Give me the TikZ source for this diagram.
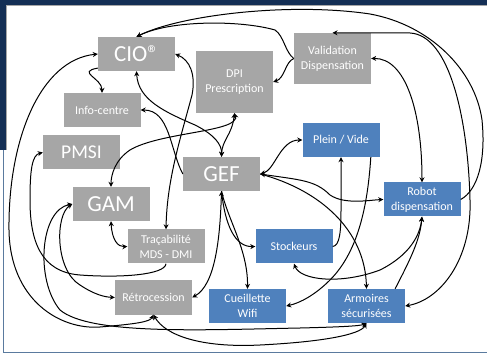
\documentclass[tikz,border=0pt]{standalone}
\usepackage{fontspec}
\setmainfont{Carlito}
\usetikzlibrary{arrows.meta}
\definecolor{navy}{HTML}{142F55}
\definecolor{edgeblue}{HTML}{5A7A9E}
\definecolor{boxgray}{HTML}{A6A6A6}
\definecolor{boxblue}{HTML}{4F81BD}
\begin{document}
\begin{tikzpicture}[x=1pt,y=-1pt,
  box/.style={minimum width=77pt,minimum height=34pt,inner sep=1pt,align=center,text=white},
  gbox/.style={box,fill=boxgray},
  bbox/.style={box,fill=boxblue},
  big/.style={font=\fontsize{23}{25}\selectfont},
  small/.style={font=\fontsize{12}{15}\selectfont},
  arr/.style={draw=black,line width=1pt,-{Stealth[length=5pt,width=5pt]}},
  biarr/.style={draw=black,line width=1pt,{Stealth[length=5pt,width=5pt]}-{Stealth[length=5pt,width=5pt]}}
]
\useasboundingbox (0,0) rectangle (487,355);
\fill[white] (0,0) rectangle (487,355);
% frame
\fill[navy] (0,0) rectangle (487,5.5);
\fill[navy] (0,0) rectangle (5.5,150);
\draw[edgeblue,line width=1pt] (3.5,150) -- (3.5,352.5) -- (487,352.5);
\draw[gray!70,line width=0.6pt] (5.8,150) -- (5.8,5.8) -- (487,5.8);

% nodes
\node[gbox,big] (cio) at (136.5,54) {CIO®};
\node[gbox,small] (info) at (102,110) {Info-centre};
\node[gbox,font=\fontsize{19.5}{22}\selectfont] (pmsi) at (81.5,152.5) {PMSI};
\node[gbox,big] (gam) at (111,204) {GAM};
\node[gbox,small] (trac) at (166,246.5) {Traçabilité\\MDS - DMI};
\node[gbox,small] (retro) at (153.5,297.5) {Rétrocession};
\node[gbox,small,minimum height=62pt] (dpi) at (234.5,82) {DPI\\Prescription};
\node[gbox,small,minimum height=51pt] (valid) at (332.5,58.5) {Validation\\Dispensation};
\node[gbox,big] (gef) at (221.5,174) {GEF};
\node[bbox,small] (plein) at (341,140) {Plein / Vide};
\node[bbox,small] (robot) at (422,199.5) {Robot\\dispensation};
\node[bbox,small] (stock) at (294,246.5) {Stockeurs};
\node[bbox,small] (cueil) at (247.5,306) {Cueillette\\Wifi};
\node[bbox,small] (arm) at (366.5,306) {Armoires\\sécurisées};

% top outer arc: Robot -> CIO
\draw[arr] (robot.east) .. controls (478,190) and (486,160) .. (482,120)
  .. controls (475,70) and (430,25) .. (370,14)
  .. controls (290,2) and (180,15) .. (cio.north);
% Validation -> CIO
\draw[arr] (valid.west) .. controls (285,52) and (284,36) .. (275,30)
  .. controls (240,20) and (170,20) .. (cio.north);
% Validation -> DPI
\draw[arr] (valid.west) .. controls (285,62) and (285,78) .. (dpi.east);
% Armoires <-> Validation (right arc)
\draw[biarr] (arm.east) .. controls (440,300) and (472,260) .. (470,200)
  .. controls (468,120) and (450,35) .. (410,33) -- (valid.north);
% Validation <-> Robot
\draw[biarr] (valid.east) .. controls (405,58) and (422,110) .. (robot.north);
% CIO <-> Retrocession (outer left arc)
\draw[biarr] (cio.west) .. controls (40,60) and (8,140) .. (9,230)
  .. controls (10,300) and (60,330) .. (100,327)
  .. controls (135,324) and (150,322) .. (retro.south);
% CIO -> Info-centre
\draw[arr] (cio.200) .. controls (76,72) and (102,78) .. (info.north);
% CIO <-> Tracabilite
\draw[biarr] (cio.east) .. controls (190,60) and (196,75) .. (192,95)
  .. controls (180,140) and (167,180) .. (trac.north);
% CIO <-> GEF
\draw[biarr] (cio.south) .. controls (138,100) and (165,112) .. (195,125)
  .. controls (215,135) and (222,145) .. (gef.north);
% GEF -> Info-centre
\draw[arr] (gef.west) .. controls (170,150) and (170,110) .. (info.east);
% DPI <-> GAM
\draw[biarr] (dpi.south) .. controls (240,132) and (160,132) .. (130,150)
  .. controls (115,160) and (111,175) .. (gam.north);
% DPI <-> GEF
\draw[biarr] (dpi.south) .. controls (232,135) and (222,140) .. (gef.north);
% GAM <-> Tracabilite
\draw[biarr] (gam.south) .. controls (112,240) and (118,247) .. (trac.west);
% Tracabilite -> PMSI
\draw[arr] (trac.south) .. controls (165,275) and (120,278) .. (80,275)
  .. controls (40,272) and (30,240) .. (30,200)
  .. controls (30,170) and (32,155) .. (pmsi.west);
% GEF <-> Retrocession
\draw[biarr] (gef.south) .. controls (220,240) and (215,285) .. (retro.east);
% GEF -> Stockeurs
\draw[arr] (gef.south) .. controls (225,225) and (235,247) .. (stock.west);
% GEF -> Cueillette
\draw[arr] (gef.south) .. controls (228,220) and (248,250) .. (cueil.north);
% GEF <-> Plein/Vide
\draw[biarr] (gef.east) .. controls (275,170) and (280,140) .. (plein.west);
% GEF <-> Robot
\draw[biarr] (gef.east) .. controls (300,180) and (315,180) .. (330,195)
  .. controls (345,205) and (370,200) .. (robot.west);
% GEF -> Armoires
\draw[arr] (gef.east) .. controls (320,190) and (365,230) .. (arm.north);
% Stockeurs -> Plein/Vide
\draw[arr] (stock.east) .. controls (340,246) and (341,230) .. (341,210) -- (plein.south);
% Plein/Vide -> Cueillette
\draw[arr] (plein.330) .. controls (368,200) and (360,250) .. (330,280)
  .. controls (315,295) and (300,303) .. (cueil.east);
% Stockeurs <-> Robot
\draw[biarr] (stock.south) .. controls (300,280) and (340,285) .. (380,270)
  .. controls (410,255) and (420,235) .. (robot.south);
% Armoires -> Robot
\draw[arr] (arm.31) .. controls (410,260) and (420,240) .. (robot.south);
% Retrocession <-> Armoires (bottom)
\draw[biarr] (retro.south) .. controls (165,335) and (200,348) .. (260,345)
  .. controls (320,342) and (360,335) .. (arm.south);
% GAM <-> Armoires (bottom left)
\draw[biarr] (gam.west) .. controls (40,210) and (35,280) .. (60,310)
  .. controls (90,335) and (200,330) .. (300,328)
  .. controls (340,327) and (360,326) .. (arm.south);
% GAM <-> Retrocession
\draw[biarr] (gam.west) .. controls (55,215) and (55,270) .. (80,285)
  .. controls (95,295) and (105,297) .. (retro.west);
\end{tikzpicture}
\end{document}
